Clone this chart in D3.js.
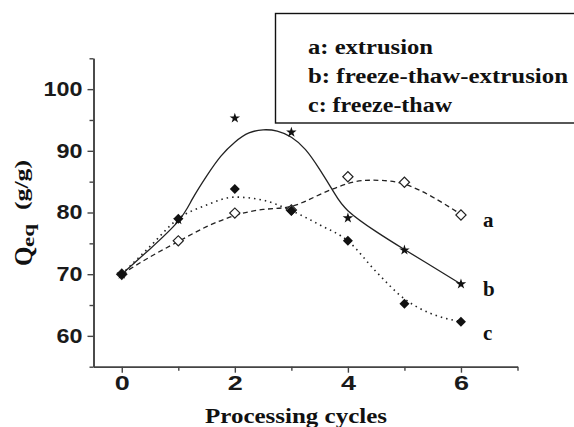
<!DOCTYPE html>
<html>
<head>
<meta charset="utf-8">
<script src="https://cdn.jsdelivr.net/npm/d3@7"></script>
<style>
html,body{margin:0;padding:0;background:#fff;}
svg{display:block;}
</style>
</head>
<body>
<svg id="chart" width="574" height="427"></svg>
<script>
// ---- data ----
const cycles = [0, 1, 2, 3, 4, 5, 6];
const seriesA = [70, 75.4, 79.9, 80.4, 85.8, 84.9, 79.6];   // a: extrusion (open diamonds)
const seriesB = [70, 78.8, 95.3, 93.0, 79.1, 73.9, 68.4];   // b: freeze-thaw-extrusion (stars)
const seriesC = [70, 79.0, 83.8, 80.3, 75.4, 65.2, 62.3];   // c: freeze-thaw (filled diamonds)

// fitted curves
const fitAX = [0, 0.5, 1, 1.5, 2, 2.5, 3, 3.5, 4, 4.3, 4.6, 5, 5.5, 6];
const fitA  = [70, 72.8, 75.3, 77.7, 79.5, 80.5, 81.0, 82.9, 84.7, 85.2, 85.2, 84.6, 82.5, 79.7];
const fitBX = [0, 0.5, 1, 1.25, 1.5, 1.75, 2, 2.25, 2.5, 2.75, 3, 3.25, 3.5, 3.75, 4, 4.5, 5, 5.5, 6];
const fitB  = [70, 74.1, 78.6, 82.2, 85.9, 89.1, 91.4, 92.9, 93.4, 93.2, 92.2, 90.2, 87.0, 83.3, 80.3, 76.9, 74.0, 71.2, 68.4];
const fitCX = [0, 0.5, 1, 1.5, 2, 2.5, 3, 3.5, 4, 4.5, 5, 5.5, 6];
const fitC  = [70, 74.5, 79.0, 81.2, 82.5, 82.0, 80.3, 78.0, 75.4, 70.4, 66.0, 63.5, 62.3];

const xMajor = [0, 2, 4, 6];
const xMinor = [1, 3, 5, 7];
const yMajor = [60, 70, 80, 90, 100];
const yMinor = [55, 65, 75, 85, 95, 105];

const legendLabels = ["a: extrusion", "b: freeze-thaw-extrusion", "c: freeze-thaw"];
const curveLabels = ["a", "b", "c"];

// ---- drawing ----
const svg = d3.select("#chart");
const x = d3.scaleLinear().domain([-0.5, 7]).range([93.5, 517.5]);
const y = d3.scaleLinear().domain([55, 105]).range([366.7, 58.3]);

const axisColor = "#444";
const serif = "'Liberation Serif','Times New Roman',serif";
const sans = "'Liberation Sans',Arial,sans-serif";

// axes
const gx = svg.append("g").attr("transform", `translate(0,${y(55)})`);
gx.call(d3.axisBottom(x).tickValues(xMajor).tickSize(6).tickSizeOuter(0).tickFormat(d3.format("d")));
const gxm = svg.append("g").attr("transform", `translate(0,${y(55)})`);
gxm.call(d3.axisBottom(x).tickValues(xMinor).tickSize(4).tickSizeOuter(0).tickFormat(""));
const gy = svg.append("g").attr("transform", `translate(${x(-0.5)},0)`);
gy.call(d3.axisLeft(y).tickValues(yMajor).tickSize(6).tickSizeOuter(0).tickFormat(d3.format("d")));
const gym = svg.append("g").attr("transform", `translate(${x(-0.5)},0)`);
gym.call(d3.axisLeft(y).tickValues(yMinor).tickSize(4).tickSizeOuter(0).tickFormat(""));

[gx, gxm, gy, gym].forEach(g => {
  g.select(".domain").attr("stroke", axisColor).attr("stroke-width", 1.6);
  g.selectAll(".tick line").attr("stroke", axisColor).attr("stroke-width", 1.4);
});
gx.selectAll(".tick text")
  .attr("font-family", sans).attr("font-size", 20).attr("font-weight", "bold").attr("fill", "#1a1a1a")
  .attr("y", 9).attr("dy", "0.71em")
  .attr("textLength", 15).attr("lengthAdjust", "spacingAndGlyphs");
gy.selectAll(".tick text")
  .attr("font-family", sans).attr("font-size", 20).attr("font-weight", "bold").attr("fill", "#1a1a1a")
  .attr("x", -11)
  .each(function(d){ d3.select(this).attr("textLength", String(d).length * 13).attr("lengthAdjust", "spacingAndGlyphs"); });

// curves
const fits = [
  {xs: fitAX, vals: fitA, dash: "5,3.5", w: 1.3, curve: d3.curveNatural},
  {xs: fitBX, vals: fitB, dash: null, w: 1.3, curve: d3.curveNatural},
  {xs: fitCX, vals: fitC, dash: "1.5,4", w: 1.6, curve: d3.curveMonotoneX}
];
fits.forEach(f => {
  const line = d3.line().x(d => x(d[0])).y(d => y(d[1])).curve(f.curve);
  svg.append("path")
    .datum(f.xs.map((v, i) => [v, f.vals[i]]))
    .attr("d", line)
    .attr("fill", "none")
    .attr("stroke", "#222")
    .attr("stroke-width", f.w)
    .attr("stroke-dasharray", f.dash);
});

// markers
const diamond = d3.symbol().type(d3.symbolSquare);
svg.append("g").selectAll("path").data(cycles.map((c, i) => [c, seriesA[i]])).join("path")
  .attr("d", diamond.size(52))
  .attr("transform", d => `translate(${x(d[0])},${y(d[1])}) rotate(45)`)
  .attr("fill", "#fff").attr("stroke", "#222").attr("stroke-width", 1.2);
svg.append("g").selectAll("path").data(cycles.map((c, i) => [c, seriesB[i]])).join("path")
  .attr("d", d3.symbol().type(d3.symbolStar).size(34))
  .attr("transform", d => `translate(${x(d[0])},${y(d[1])})`)
  .attr("fill", "#111");
svg.append("g").selectAll("path").data(cycles.map((c, i) => [c, seriesC[i]])).join("path")
  .attr("d", diamond.size(50))
  .attr("transform", d => `translate(${x(d[0])},${y(d[1])}) rotate(45)`)
  .attr("fill", "#111");

// curve labels
const lastVals = [seriesA[6], seriesB[6], seriesC[6]];
const labelOff = [12, 12, 18];
curveLabels.forEach((t, i) => {
  svg.append("text")
    .attr("x", x(6) + 22).attr("y", y(lastVals[i]) + labelOff[i])
    .attr("font-family", serif).attr("font-weight", "bold").attr("font-size", 21)
    .attr("fill", "#111").text(t);
});

// legend box
svg.append("rect").attr("x", 275.5).attr("y", 13.5).attr("width", 320).attr("height", 109.5)
  .attr("fill", "#fff").attr("stroke", "#111").attr("stroke-width", 1.4);
const legLen = [125, 260, 144];
legendLabels.forEach((t, i) => {
  svg.append("text")
    .attr("x", 308).attr("y", 54 + i * 29)
    .attr("font-family", serif).attr("font-weight", "bold").attr("font-size", 20)
    .attr("fill", "#111")
    .attr("textLength", legLen[i]).attr("lengthAdjust", "spacingAndGlyphs")
    .text(t);
});

// x axis title
svg.append("text")
  .attr("x", 296).attr("y", 423).attr("text-anchor", "middle")
  .attr("font-family", serif).attr("font-weight", "bold").attr("font-size", 22)
  .attr("fill", "#111")
  .attr("textLength", 182).attr("lengthAdjust", "spacingAndGlyphs")
  .text("Processing cycles");

// y axis title
const yl = svg.append("g").attr("transform", "translate(32,266) rotate(-90)")
  .attr("font-family", serif).attr("font-weight", "bold").attr("fill", "#111");
yl.append("text").attr("x", 0).attr("y", 0).attr("font-size", 25).text("Q");
yl.append("text").attr("x", 19).attr("y", 2).attr("font-size", 16)
  .attr("textLength", 23).attr("lengthAdjust", "spacingAndGlyphs").text("eq");
yl.append("text").attr("x", 56).attr("y", -4).attr("font-size", 18)
  .attr("textLength", 50).attr("lengthAdjust", "spacingAndGlyphs").text("(g/g)");
</script>
</body>
</html>
